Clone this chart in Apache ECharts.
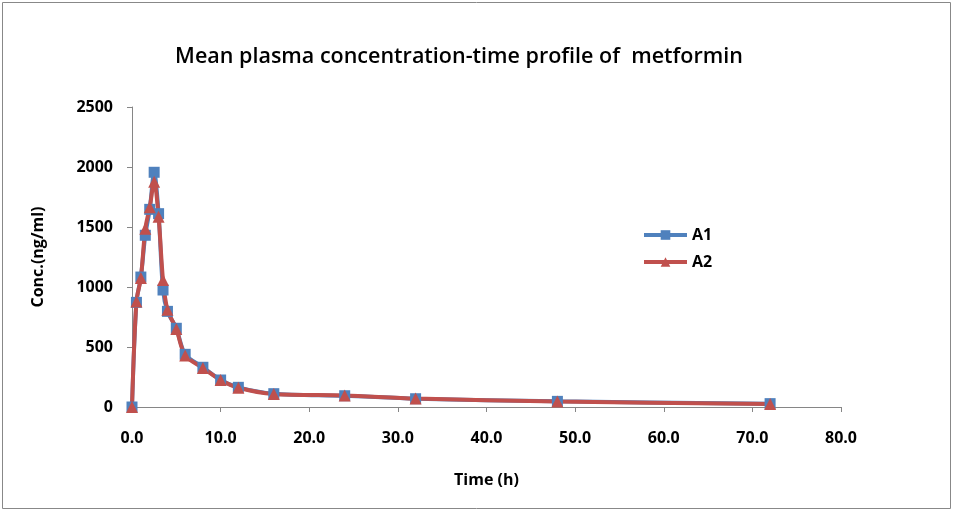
<!DOCTYPE html>
<html>
<head>
<meta charset="utf-8">
<script src="https://cdn.jsdelivr.net/npm/echarts@6/dist/echarts.min.js"></script>
<style>
html,body{margin:0;padding:0;background:#fff;}
#c{width:954px;height:513px;}
</style>
</head>
<body>
<div id="c"></div>
<script>
const times = [0, 0.5, 1, 1.5, 2, 2.5, 3, 3.5, 4, 5, 6, 8, 10, 12, 16, 24, 32, 48, 72];
const a1 = [0, 872, 1083, 1431, 1647, 1956, 1611, 975, 797, 656, 439, 331, 225, 164, 111, 94, 69, 47, 28];
const a2 = [0, 880, 1075, 1485, 1664, 1878, 1586, 1058, 810, 650, 430, 325, 225, 160, 108, 96, 70, 45, 25];
const xTicks = [0, 10, 20, 30, 40, 50, 60, 70, 80];
const yTicks = [0, 500, 1000, 1500, 2000, 2500];

const font = '"Open Sans", Lato, sans-serif';
const lbl = {fontFamily: font, fontSize: 16, fontWeight: 'bold', color: '#000'};
const chart = echarts.init(document.getElementById('c'));
chart.setOption({
  animation: false,
  backgroundColor: '#fff',
  title: {
    text: 'Mean plasma concentration-time profile of  metformin',
    left: 454, textAlign: 'center', top: 41,
    textStyle: {fontFamily: font, fontSize: 21.5, fontWeight: 600, color: '#000'}
  },
  graphic: [{
    type: 'rect', shape: {x: 2.5, y: 2.5, width: 948, height: 506},
    style: {fill: 'none', stroke: '#888', lineWidth: 1}
  }],
  legend: {
    orient: 'vertical', left: 637, top: 222, itemWidth: 43, itemHeight: 12, itemGap: 11,
    textStyle: lbl,
    lineStyle: {width: 4},
    data: ['A1', 'A2']
  },
  grid: {left: 132, right: 113, top: 107, bottom: 106, containLabel: false},
  xAxis: {
    type: 'value', min: xTicks[0], max: xTicks[xTicks.length - 1], interval: 10,
    name: 'Time (h)', nameLocation: 'middle', nameGap: 65,
    nameTextStyle: lbl,
    axisLine: {show: true, lineStyle: {color: '#868686', width: 1}},
    axisTick: {show: true, length: 5, lineStyle: {color: '#868686'}},
    axisLabel: Object.assign({margin: 23, formatter: v => v.toFixed(1)}, lbl),
    splitLine: {show: false}
  },
  yAxis: {
    type: 'value', min: yTicks[0], max: yTicks[yTicks.length - 1], interval: 500,
    name: 'Conc.(ng/ml)', nameLocation: 'middle', nameGap: 86, nameRotate: 90,
    nameTextStyle: lbl,
    axisLine: {show: true, lineStyle: {color: '#868686', width: 1}},
    axisTick: {show: true, length: 5, lineStyle: {color: '#868686'}},
    axisLabel: Object.assign({margin: 19, formatter: v => String(v)}, lbl),
    splitLine: {show: false}
  },
  series: [
    {
      name: 'A1', type: 'line', smooth: 0.3,
      data: times.map((t, i) => [t, a1[i]]),
      symbol: 'rect', symbolSize: 11,
      lineStyle: {color: '#4F81BD', width: 4},
      itemStyle: {color: '#4F81BD'}
    },
    {
      name: 'A2', type: 'line', smooth: 0.3,
      data: times.map((t, i) => [t, a2[i]]),
      symbol: 'triangle', symbolSize: 12,
      lineStyle: {color: '#C0504D', width: 4},
      itemStyle: {color: '#C0504D'}
    }
  ]
});
</script>
</body>
</html>
